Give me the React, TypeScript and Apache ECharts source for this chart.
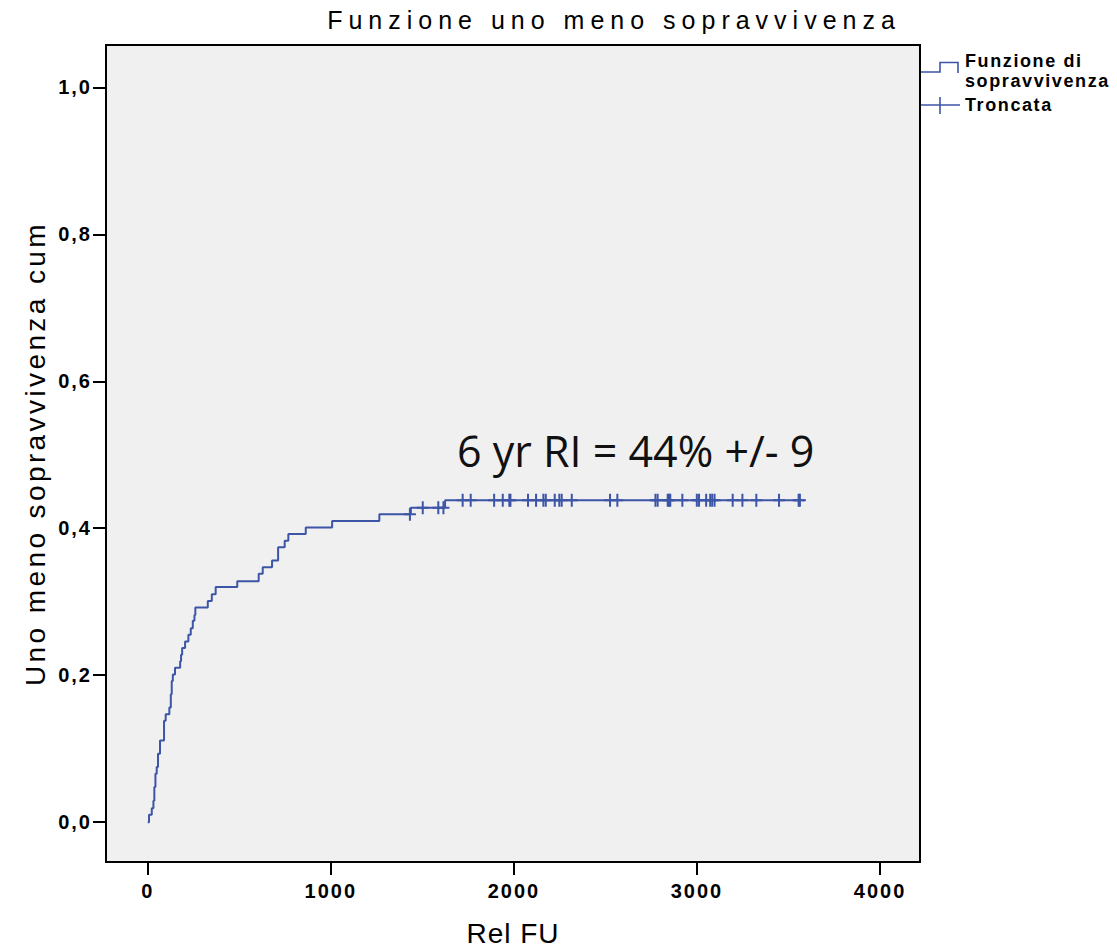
import React, { useEffect, useRef } from "react";
import * as echarts from "echarts";

// Kaplan-Meier "one minus survival" step function: event times (days) and cumulative value after each step
const eventTimes = [
  0, 7, 22, 31, 36, 42, 49, 56, 67, 89,
  98, 118, 126, 131, 137, 149, 177, 182, 188, 204,
  222, 235, 246, 255, 260, 328, 350, 371, 489, 606,
  628, 679, 712, 748, 768, 863, 1007, 1265, 1437, 1624,
];
const oneMinusSurvival = [
  0, 0.010, 0.019, 0.029, 0.048, 0.066, 0.075, 0.093, 0.111, 0.138,
  0.147, 0.156, 0.174, 0.192, 0.201, 0.210, 0.219, 0.228, 0.237, 0.246,
  0.255, 0.264, 0.274, 0.282, 0.292, 0.301, 0.310, 0.320, 0.328, 0.338,
  0.347, 0.356, 0.374, 0.383, 0.392, 0.401, 0.410, 0.419, 0.428, 0.438,
];
// censored observations (Troncata)
const censoredTimes = [
  1432, 1502, 1587, 1615, 1720, 1764, 1892, 1939, 1975, 1981,
  2077, 2121, 2161, 2174, 2223, 2248, 2261, 2316, 2525, 2565,
  2773, 2785, 2840, 2847, 2854, 2920, 2999, 3011, 3050, 3072,
  3083, 3096, 3195, 3248, 3324, 3448, 3555, 3562,
];
const xTicks = [0, 1000, 2000, 3000, 4000];
const yTicks = [0, 0.2, 0.4, 0.6, 0.8, 1.0];

const titleText = "Funzione uno meno sopravvivenza";
const xName = "Rel FU";
const yName = "Uno meno sopravvivenza cum";
const legendLine1 = "Funzione di";
const legendLine2 = "sopravvivenza";
const legendCensored = "Troncata";
const annotation = "6 yr RI = 44% +/- 9";

const LINE = "#3d55a7";
const FONT = "'Liberation Sans', Arial, Helvetica, sans-serif";

function levelAt(t: number): number {
  let v = 0;
  for (let i = 0; i < eventTimes.length; i++) {
    if (eventTimes[i] <= t) v = oneMinusSurvival[i];
  }
  return v;
}

const fmtY = (v: number) => v.toFixed(1).replace(".", ",");

export default function App() {
  const ref = useRef<HTMLDivElement>(null);

  useEffect(() => {
    if (!ref.current) return;
    const chart = echarts.init(ref.current, null, { renderer: "svg" });

    const lastCensor = censoredTimes[censoredTimes.length - 1];
    const lineData = eventTimes.map((t, i) => [t, oneMinusSurvival[i]]);
    lineData.push([lastCensor, levelAt(lastCensor)]);
    const censorData = censoredTimes.map((t) => [t, levelAt(t)]);

    const option: any = {
      animation: false,
      backgroundColor: "#ffffff",
      title: {
        text: titleText,
        left: 614,
        top: 7,
        padding: 0,
        textAlign: "center",
        textStyle: { fontFamily: FONT, fontSize: 25, fontWeight: "normal", color: "#000" },
      },
      grid: {
        left: 106,
        top: 45,
        width: 814,
        height: 820,
        show: true,
        backgroundColor: "#f0f0f0",
        borderColor: "#000",
        borderWidth: 2,
      },
      xAxis: {
        type: "value",
        min: -228,
        max: 4218,
        name: xName,
        nameLocation: "middle",
        nameGap: 57,
        nameTextStyle: { fontFamily: FONT, fontSize: 28, color: "#000" },
        axisLine: { show: false, onZero: false },
        splitLine: { show: false },
        axisTick: { show: true, customValues: xTicks, length: 13, lineStyle: { color: "#000", width: 2 } },
        axisLabel: {
          customValues: xTicks,
          margin: 19,
          fontFamily: FONT,
          fontSize: 20,
          fontWeight: "bold",
          color: "#000",
          formatter: (v: number) => String(v),
        },
      },
      yAxis: {
        type: "value",
        min: -0.0542,
        max: 1.0576,
        name: yName,
        nameLocation: "middle",
        nameGap: 57,
        nameTextStyle: { fontFamily: FONT, fontSize: 28, color: "#000" },
        axisLine: { show: false, onZero: false },
        splitLine: { show: false },
        axisTick: { show: true, customValues: yTicks, length: 13, lineStyle: { color: "#000", width: 2 } },
        axisLabel: {
          customValues: yTicks,
          margin: 14,
          fontFamily: FONT,
          fontSize: 20,
          fontWeight: "bold",
          color: "#000",
          formatter: (v: number) => fmtY(v),
        },
      },
      series: [
        {
          name: "Funzione di sopravvivenza",
          type: "line",
          step: "end",
          showSymbol: false,
          data: lineData,
          lineStyle: { color: LINE, width: 2 },
          itemStyle: { color: LINE },
          z: 3,
        },
        {
          name: "Troncata",
          type: "scatter",
          data: censorData,
          symbol: "path://M5,0H7V5.5H12V7.5H7V13H5V7.5H0V5.5H5Z",
          symbolSize: [12, 13],
          itemStyle: { color: LINE, opacity: 1 },
          z: 4,
        },
      ],
      graphic: [
        {
          type: "polyline",
          shape: { points: [[921, 72], [940, 72], [940, 62.5], [958, 62.5], [958, 73]] },
          style: { stroke: LINE, lineWidth: 1.6, fill: "none" },
        },
        {
          type: "line",
          shape: { x1: 921, y1: 105, x2: 960, y2: 105 },
          style: { stroke: LINE, lineWidth: 1.6 },
        },
        {
          type: "line",
          shape: { x1: 940, y1: 97, x2: 940, y2: 114 },
          style: { stroke: LINE, lineWidth: 1.6 },
        },
        {
          type: "text",
          x: 965,
          y: 60.5,
          style: { text: legendLine1, fontFamily: FONT, fontSize: 18, fontWeight: "bold", fill: "#000", align: "left", verticalAlign: "middle" },
        },
        {
          type: "text",
          x: 965,
          y: 80.5,
          style: { text: legendLine2, fontFamily: FONT, fontSize: 18, fontWeight: "bold", fill: "#000", align: "left", verticalAlign: "middle" },
        },
        {
          type: "text",
          x: 965,
          y: 104.5,
          style: { text: legendCensored, fontFamily: FONT, fontSize: 18, fontWeight: "bold", fill: "#000", align: "left", verticalAlign: "middle" },
        },
        {
          type: "text",
          x: 457,
          y: 450,
          z: 10,
          style: { text: annotation, fontFamily: "'Open Sans', sans-serif", fontSize: 43, fill: "#111", align: "left", verticalAlign: "middle" },
        },
      ],
    };

    chart.setOption(option);

    const spacingFor = (s: string): number | null => {
      if (s === titleText) return 6;
      if (s === yName) return 3.4;
      if (s === xName) return 1;
      if (s === legendLine1 || s === legendLine2 || s === legendCensored) return 1.6;
      if (/^[0-9]+$/.test(s) || /^[0-9],[0-9]$/.test(s)) return 2;
      return null;
    };
    const apply = () => {
      const el = ref.current;
      if (!el) return;
      el.querySelectorAll("text").forEach((t) => {
        const sp = spacingFor((t.textContent || "").trim());
        if (sp != null) t.setAttribute("letter-spacing", String(sp));
      });
    };
    apply();
    chart.on("finished", apply);
    const raf = requestAnimationFrame(apply);

    return () => {
      cancelAnimationFrame(raf);
      chart.dispose();
    };
  }, []);

  return (
    <div
      ref={ref}
      style={{ position: "fixed", left: 0, top: 0, width: 1117, height: 952, background: "#fff" }}
    />
  );
}
